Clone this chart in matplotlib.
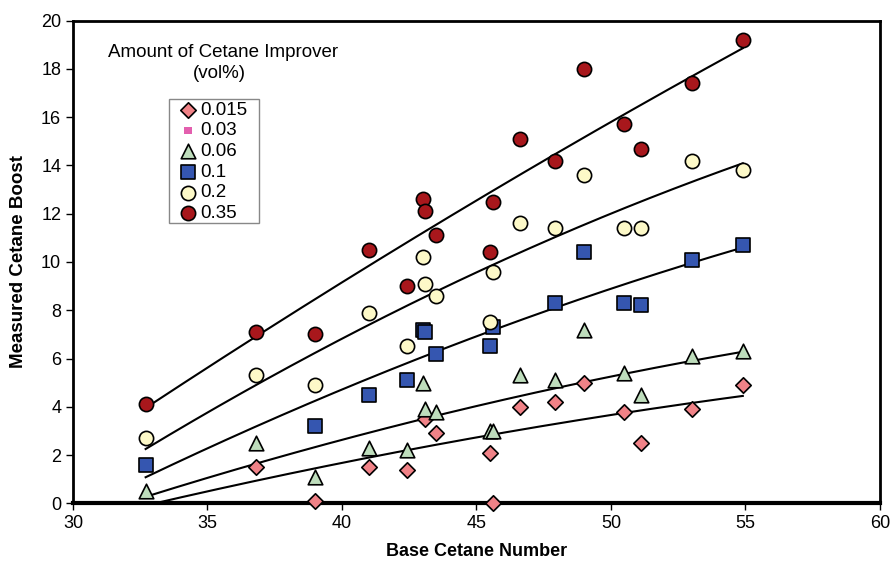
import numpy as np
import matplotlib
matplotlib.use("Agg")
import matplotlib.pyplot as plt
from matplotlib.patches import Rectangle

plt.rcParams['font.family'] = ['Liberation Sans', 'DejaVu Sans']

# Base cetane number of each fuel and the measured boost per additive dose
x_035 = [32.7, 36.8, 39.0, 41.0, 42.4, 43.0, 43.1, 43.5, 45.5, 45.6, 46.6, 47.9, 49.0, 50.5, 51.1, 53.0, 54.9]
y_035 = [4.1, 7.1, 7.0, 10.5, 9.0, 12.6, 12.1, 11.1, 10.4, 12.5, 15.1, 14.2, 18.0, 15.7, 14.7, 17.4, 19.2]

x_02 = [32.7, 36.8, 39.0, 41.0, 42.4, 43.0, 43.1, 43.5, 45.5, 45.6, 46.6, 47.9, 49.0, 50.5, 51.1, 53.0, 54.9]
y_02 = [2.7, 5.3, 4.9, 7.9, 6.5, 10.2, 9.1, 8.6, 7.5, 9.6, 11.6, 11.4, 13.6, 11.4, 11.4, 14.2, 13.8]

x_01 = [32.7, 39.0, 41.0, 42.4, 43.0, 43.1, 43.5, 45.5, 45.6, 47.9, 49.0, 50.5, 51.1, 53.0, 54.9]
y_01 = [1.6, 3.2, 4.5, 5.1, 7.2, 7.1, 6.2, 6.5, 7.3, 8.3, 10.4, 8.3, 8.2, 10.1, 10.7]

x_006 = [32.7, 36.8, 39.0, 41.0, 42.4, 43.0, 43.1, 43.5, 45.5, 45.6, 46.6, 47.9, 49.0, 50.5, 51.1, 53.0, 54.9]
y_006 = [0.5, 2.5, 1.1, 2.3, 2.2, 5.0, 3.9, 3.8, 3.0, 3.0, 5.3, 5.1, 7.2, 5.4, 4.5, 6.1, 6.3]

x_0015 = [36.8, 39.0, 41.0, 42.4, 43.1, 43.5, 45.5, 45.6, 46.6, 47.9, 49.0, 50.5, 51.1, 53.0, 54.9]
y_0015 = [1.5, 0.1, 1.5, 1.4, 3.5, 2.9, 2.1, 0.0, 4.0, 4.2, 5.0, 3.8, 2.5, 3.9, 4.9]

# trend curves: boost at low / mid / high base cetane number
trend_x = [32.7, 45.0, 54.9]
trend_035 = [3.95, 12.55, 18.86]
trend_02 = [2.25, 9.57, 14.09]
trend_01 = [1.08, 6.92, 10.60]
trend_006 = [0.27, 4.03, 6.28]
trend_0015 = [-0.09, 2.73, 4.45]

fig = plt.figure(figsize=(8.93, 5.64), dpi=100)
ax = fig.add_axes([73 / 893, 1 - 503.3 / 564, 807 / 893, 482.6 / 564])

xs = np.linspace(32.7, 54.9, 200)
for tv in [trend_035, trend_02, trend_01, trend_006, trend_0015]:
    c = np.polyfit(trend_x, tv, 2)
    ax.plot(xs, np.polyval(c, xs), color='black', lw=1.5, zorder=2)

mk = dict(edgecolors='black', linewidths=1.2, zorder=5, clip_on=False)
ax.scatter(x_0015, y_0015, marker='D', s=62, color='#F08287', label='0.015', **mk)
ax.scatter([], [], marker='s', s=33, color='#E35FAE', edgecolors='none', label='0.03')
ax.scatter(x_006, y_006, marker='^', s=110, color='#BEDDBC', label='0.06', **mk)
ax.scatter(x_01, y_01, marker='s', s=100, color='#3556B0', label='0.1', **mk)
ax.scatter(x_02, y_02, marker='o', s=105, color='#FDF9C8', label='0.2', **mk)
ax.scatter(x_035, y_035, marker='o', s=105, color='#A8171C', label='0.35', **mk)

ax.set_xlim(30, 60)
ax.set_ylim(0, 20)
ax.set_xticks(range(30, 61, 5))
ax.set_yticks(range(0, 21, 2))
ax.tick_params(labelsize=13, length=5, width=1, direction='out')
for s in ax.spines.values():
    s.set_linewidth(2)
ax.spines['bottom'].set_linewidth(3)

ax.set_xlabel('Base Cetane Number', fontsize=13, fontweight='bold', labelpad=8)
ax.set_ylabel('Measured Cetane Boost', fontsize=13.5, fontweight='bold', labelpad=10)

fig.text(222.8 / 893, 1 - 52.7 / 564, 'Amount of Cetane Improver', fontsize=13.5, ha='center', va='center')
fig.text(219 / 893, 1 - 74 / 564, '(vol%)', fontsize=13.5, ha='center', va='center')

# legend box outline, drawn separately for a wide side margin
fig.patches.append(Rectangle((169.3 / 893, 1 - 222.7 / 564), 90 / 893, 123.7 / 564,
                             transform=fig.transFigure, fill=False,
                             edgecolor='#888888', lw=1, zorder=6))
leg = ax.legend(loc='upper left', bbox_to_anchor=(181 / 893, 1 - 101.6 / 564),
                bbox_transform=fig.transFigure, fontsize=13.5, frameon=False,
                borderaxespad=0, borderpad=0, labelspacing=0.19,
                handlelength=0.71, handletextpad=0.3, scatterpoints=1)

fig.savefig('out.png', dpi=100)
